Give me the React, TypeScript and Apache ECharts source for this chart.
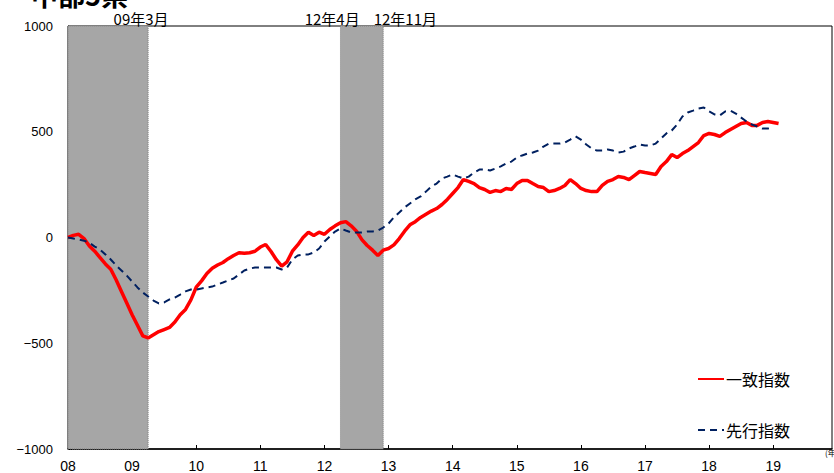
import React, { useEffect, useRef } from "react";
import * as echarts from "echarts";

// Monthly index: 0 = 2008-01
const yearLabels = ["08", "09", "10", "11", "12", "13", "14", "15", "16", "17", "18", "19"];

const coincident = [
  0, 10, 15, -5, -40, -65, -95, -125, -150, -200, -255, -310, -365, -415, -465, -475,
  -460, -445, -435, -425, -400, -365, -340, -295, -235, -205, -170, -145, -130, -118, -100, -85,
  -72, -75, -72, -65, -45, -33, -66, -105, -135, -115, -65, -35, 0, 25, 10, 25,
  15, 38, 55, 70, 75, 55, 30, -10, -38, -60, -85, -60, -52, -35, -5, 30,
  60, 75, 95, 110, 125, 137, 156, 180, 208, 236, 274, 265, 255, 236, 227, 213,
  222, 217, 232, 227, 255, 270, 270, 255, 241, 236, 217, 222, 232, 246, 274, 255,
  232, 222, 217, 217, 246, 265, 274, 288, 284, 274, 293, 312, 307, 303, 298, 336,
  359, 392, 378, 397, 411, 430, 449, 482, 492, 487, 478, 496, 511, 525, 539, 544,
  530, 530, 544, 548, 544, 539,
];

const leading = [
  0, -5, -10, -15, -25, -43, -57, -80, -104, -132, -156, -180, -208, -236, -260, -279,
  -298, -312, -307, -293, -284, -270, -255, -246, -246, -241, -236, -232, -222, -213, -203, -194,
  -175, -156, -147, -142, -142, -142, -142, -142, -151, -142, -104, -85, -80, -80, -71, -52,
  -19, 5, 28, 43, 33, 24, 24, 24, 28, 28, 33, 47, 66, 95, 118, 142,
  161, 180, 194, 217, 241, 255, 279, 288, 298, 288, 279, 288, 307, 321, 321, 317,
  326, 336, 350, 359, 378, 388, 397, 402, 411, 430, 444, 444, 444, 449, 463, 478,
  463, 440, 421, 411, 411, 416, 411, 402, 406, 421, 430, 440, 435, 435, 444, 468,
  492, 506, 534, 572, 591, 600, 610, 615, 596, 582, 577, 596, 600, 586, 567, 548,
  534, 525, 515, 515, 520,
];

// Recession bands in month index [start, end]
const band1 = [0, 15];
const band2 = [51, 59];

const seriesNames = ["一致指数", "先行指数"];

const CJK = '"Noto Sans CJK JP", "Noto Sans", sans-serif';
const LAT = '"Liberation Sans", Arial, sans-serif';

export default function App() {
  const ref = useRef<HTMLDivElement>(null);
  useEffect(() => {
    if (!ref.current) return;
    const chart = echarts.init(ref.current, null, { renderer: "svg" });
    chart.setOption({
      animation: false,
      backgroundColor: "#ffffff",
      grid: {
        left: 68,
        right: 2,
        top: 26,
        bottom: 24,
        show: true,
        borderColor: "#000",
        borderWidth: 1,
        containLabel: false,
      },
      graphic: [
        {
          type: "text",
          left: 31,
          top: -19,
          style: { text: "中部5県", fontSize: 27, fontWeight: "bold", fontFamily: CJK, fill: "#000" },
        },
        {
          type: "text",
          left: 825,
          top: 448,
          style: { text: "(年)", fontSize: 8, fontFamily: CJK, fill: "#000" },
        },
      ],
      legend: {
        orient: "vertical",
        left: 697,
        top: 371,
        padding: 0,
        itemGap: 35,
        itemWidth: 26,
        itemHeight: 14,
        data: seriesNames,
        itemStyle: { opacity: 0 },
        textStyle: { color: "#000", fontSize: 16, fontFamily: CJK, padding: [0, 0, 0, -3] },
      },
      xAxis: {
        type: "value",
        min: 0,
        max: 143,
        interval: 12,
        splitLine: { show: false },
        axisLine: { onZero: false, lineStyle: { color: "#000", width: 1.5 } },
        axisTick: { inside: true, length: 4, lineStyle: { color: "#000" } },
        axisLabel: {
          margin: 10,
          color: "#000",
          fontSize: 14,
          fontFamily: LAT,
          showMaxLabel: false,
          formatter: (v: number) => (v % 12 === 0 ? yearLabels[v / 12] ?? "" : ""),
        },
      },
      yAxis: {
        type: "value",
        min: -1000,
        max: 1000,
        interval: 500,
        splitLine: { show: false },
        axisLine: { show: true, onZero: false, lineStyle: { color: "#000" } },
        axisTick: { show: true, inside: true, length: 4, lineStyle: { color: "#000" } },
        axisLabel: {
          margin: 15,
          color: "#000",
          fontSize: 13,
          fontFamily: LAT,
          formatter: (v: number) => String(v).replace("-", "\u2212"),
        },
      },
      series: [
        {
          name: seriesNames[0],
          type: "line",
          symbol: "none",
          data: coincident.map((v, i) => [i, v]),
          lineStyle: { color: "#ff0000", width: 3.5 },
          itemStyle: { color: "#ff0000" },
          z: 3,
          markArea: {
            silent: true,
            itemStyle: {
              color: "#a6a6a6",
              borderColor: "#7f7f7f",
              borderWidth: 1,
              borderType: "dotted",
            },
            label: {
              show: true,
              position: "top",
              distance: 0,
              color: "#000",
              fontSize: 15,
              fontFamily: CJK,
            },
            data: [
              [
                { xAxis: band1[0], label: { formatter: "09年3月", offset: [33, 0] } },
                { xAxis: band1[1] },
              ],
              [
                {
                  xAxis: band2[0],
                  label: {
                    formatter: "{a|12年4月}{b|12年11月}",
                    offset: [9, 0],
                    rich: {
                      a: { fontSize: 15, fontFamily: CJK, color: "#000", padding: [0, 14, 0, 0] },
                      b: { fontSize: 15, fontFamily: CJK, color: "#000" },
                    },
                  },
                },
                { xAxis: band2[1] },
              ],
            ],
          },
        },
        {
          name: seriesNames[1],
          type: "line",
          symbol: "none",
          data: leading.map((v, i) => [i, v]),
          lineStyle: { color: "#002060", width: 2, type: [7, 5] },
          itemStyle: { color: "#002060" },
          z: 4,
        },
      ],
    });
    return () => chart.dispose();
  }, []);
  return (
    <div
      ref={ref}
      style={{ position: "fixed", left: 0, top: 0, width: 834, height: 473 }}
    />
  );
}
